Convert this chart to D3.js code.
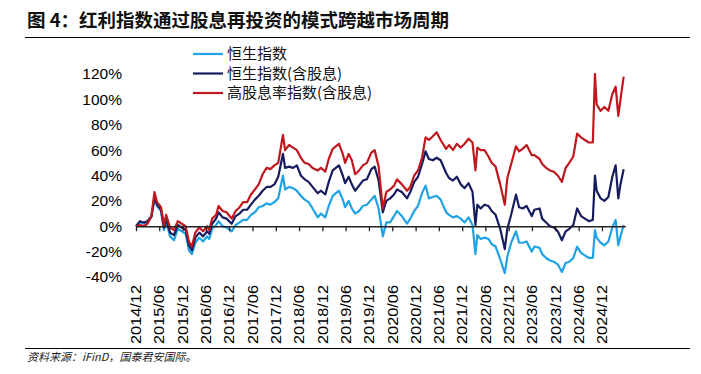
<!DOCTYPE html>
<html>
<head>
<meta charset="utf-8">
<script src="https://cdn.jsdelivr.net/npm/d3@7"></script>
<style>
  body { margin: 0; background: #fff; }
  svg { display: block; }
  .cjk { font-family: "Noto Sans CJK SC", sans-serif; }
  .num { font-family: "Liberation Sans", Arial, sans-serif; }
</style>
</head>
<body>
<svg id="chart" width="701" height="374"></svg>
<script>
// dates of the readings (month-level, plus a few turning points)
var dates = [
  '2014-12-01','2015-01-01','2015-02-01','2015-03-01','2015-04-01','2015-04-25','2015-05-15','2015-06-15',
  '2015-07-08','2015-07-25','2015-08-25','2015-09-25','2015-10-25','2015-11-25','2015-12-25',
  '2016-01-20','2016-02-12','2016-03-10','2016-04-10','2016-05-10','2016-06-10','2016-06-27',
  '2016-07-20','2016-08-20','2016-09-08','2016-10-10','2016-11-10','2016-12-20',
  '2017-01-20','2017-02-20','2017-03-20','2017-04-20','2017-05-20','2017-06-20','2017-07-20',
  '2017-08-20','2017-09-20','2017-10-20','2017-11-20','2017-12-20',
  '2018-01-26','2018-02-12','2018-03-15','2018-04-15','2018-05-15','2018-06-15','2018-07-15',
  '2018-08-15','2018-09-15','2018-10-26','2018-11-20','2018-12-24',
  '2019-01-20','2019-02-20','2019-04-10','2019-05-10','2019-05-28','2019-06-25','2019-07-20',
  '2019-08-15','2019-09-15','2019-10-15','2019-11-15','2019-12-20',
  '2020-01-15','2020-02-15','2020-03-19','2020-04-15','2020-05-15','2020-06-15','2020-07-08',
  '2020-08-15','2020-09-25','2020-10-20','2020-11-20','2020-12-20',
  '2021-01-20','2021-02-17','2021-03-15','2021-04-15','2021-05-15','2021-06-15','2021-07-28',
  '2021-08-20','2021-09-20','2021-10-20','2021-11-20','2021-12-20',
  '2022-01-20','2022-02-20','2022-03-15','2022-03-30','2022-04-25','2022-05-25','2022-06-25',
  '2022-07-20','2022-08-20','2022-09-25','2022-10-31','2022-11-20','2022-12-20',
  '2023-01-27','2023-02-20','2023-03-20','2023-04-20','2023-05-31','2023-06-20','2023-07-31',
  '2023-08-20','2023-09-20','2023-10-20','2023-11-20','2023-12-20',
  '2024-01-22','2024-02-20','2024-03-20','2024-04-20','2024-05-20','2024-06-20','2024-07-20',
  '2024-08-20','2024-09-20','2024-10-07','2024-10-20','2024-11-20','2024-12-20',
  '2025-01-20','2025-02-20','2025-03-18','2025-04-08','2025-04-25','2025-05-20'
];

// 恒生指数 (%)
var hsi = [
  0,3,2,3,7,21,16,12,
  -3,4,-8,-11,-2,-4,-6,
  -19,-22,-13,-9,-12,-8,-10,
  -2,1,4,0,-1,-4,
  1,3,5,5,9,11,15,
  16,18,17,19,22,
  40,29,31,30,28,24,21,
  19,14,7,10,7,
  16,24,28,21,15,20,14,
  10,12,16,17,21,
  24,14,-8,3,3,8,12,
  8,2,6,12,16,
  26,32,22,23,24,21,11,
  9,7,8,6,3,
  7,1,-22,-7,-10,-9,-10,
  -14,-16,-26,-37,-24,-13,
  -4,-13,-13,-12,-20,-16,-17,
  -22,-25,-27,-28,-30,
  -36,-29,-28,-25,-16,-21,-23,
  -25,-25,-3,-9,-13,-15,
  -12,-1,5,-15,-8,1
];

// 恒生指数(含股息) (%)
var hsiTR = [
  0,4,3,4,8,23,17,13,
  -1,6,-5,-7,1,-1,-3,
  -15,-19,-9,-5,-8,-4,-6,
  2,6,11,7,6,2,
  8,10,13,13,17,21,24,
  28,31,31,33,39,
  57,46,47,46,48,40,37,
  35,31,26,28,25,
  35,44,48,40,34,39,33,
  28,32,36,37,45,
  47,36,11,20,22,25,29,
  27,22,27,35,39,
  49,59,53,52,54,52,42,
  38,36,39,33,30,
  34,27,1,17,14,17,16,
  12,9,-2,-18,-2,9,
  25,15,14,16,8,13,14,
  6,3,0,-1,-4,
  -11,-4,-2,1,14,8,6,
  4,5,40,28,22,20,
  23,39,48,22,33,45
];

// 高股息率指数(含股息) (%)
var hdy = [
  0,1,0,2,8,27,19,15,
  1,9,-1,-3,4,2,0,
  -12,-16,-5,-1,-4,0,-3,
  6,9,16,12,11,6,
  12,15,19,19,25,29,33,
  41,46,45,48,50,
  72,60,64,62,60,54,50,
  49,46,44,46,43,
  53,61,65,57,50,57,52,
  41,44,48,50,58,
  60,47,14,27,29,32,37,
  33,28,31,40,44,
  54,70,68,71,74,68,61,
  64,60,65,62,65,
  69,66,44,62,60,60,55,
  50,47,33,17,38,49,
  63,59,61,64,56,56,53,
  49,46,44,43,40,
  35,46,50,55,73,70,68,
  66,66,120,96,91,94,
  91,104,110,87,100,118
];

var seriesNames = ['恒生指数', '恒生指数(含股息)', '高股息率指数(含股息)'];
var seriesColors = ['#1fa3e4', '#171c5e', '#c0181f'];
var yTicks = [-40, -20, 0, 20, 40, 60, 80, 100, 120];
var xTickLabels = ['2014/12','2015/06','2015/12','2016/06','2016/12','2017/06','2017/12',
  '2018/06','2018/12','2019/06','2019/12','2020/06','2020/12','2021/06','2021/12',
  '2022/06','2022/12','2023/06','2023/12','2024/06','2024/12'];

var parse = d3.timeParse('%Y-%m-%d');
var parseTick = d3.timeParse('%Y/%m');
var svg = d3.select('#chart');

// title
svg.append('text')
  .attr('class', 'cjk')
  .attr('x', 27).attr('y', 27)
  .style('font-size', '18.5px').style('font-weight', 'bold').style('fill', '#111')
  .text('图 4：红利指数通过股息再投资的模式跨越市场周期');
svg.append('line')
  .attr('x1', 25).attr('x2', 690).attr('y1', 37.5).attr('y2', 37.5)
  .style('stroke', '#000').style('stroke-width', 1.2);

var x = d3.scaleTime()
  .domain([parse('2014-12-01'), parse('2025-06-01')])
  .range([136, 625.2]);
var y = d3.scaleLinear()
  .domain([-40, 120])
  .range([277, 74]);

// y labels
var yAxis = svg.append('g')
  .attr('transform', 'translate(125,0)')
  .call(d3.axisLeft(y).tickValues(yTicks).tickSize(0).tickPadding(3)
    .tickFormat(function(d) { return d + '%'; }));
yAxis.select('.domain').remove();
yAxis.selectAll('text')
  .attr('class', 'num')
  .style('font-size', '15.5px').style('fill', '#000');

// lines
var lineGen = d3.line()
  .x(function(d) { return x(d.date); })
  .y(function(d) { return y(d.v); });

[hsi, hsiTR, hdy].forEach(function(vals, k) {
  var pts = vals.map(function(v, i) { return {date: parse(dates[i]), v: v}; });
  svg.append('path')
    .attr('d', lineGen(pts))
    .style('fill', 'none')
    .style('stroke', seriesColors[k])
    .style('stroke-width', '2.2px')
    .style('stroke-linejoin', 'round');
});

// x axis on the 0% line
var xAxis = svg.append('g')
  .attr('transform', 'translate(0,' + y(0) + ')')
  .call(d3.axisBottom(x)
    .tickValues(xTickLabels.map(function(t) { return parseTick(t); }))
    .tickSize(5).tickSizeOuter(0).tickFormat(''));
xAxis.select('.domain').style('stroke', '#222').style('stroke-width', 1.3);
xAxis.selectAll('.tick line').style('stroke', '#222').style('stroke-width', 1.3);

// x labels under the plot
svg.append('g').selectAll('text')
  .data(xTickLabels)
  .join('text')
  .attr('class', 'num')
  .attr('transform', function(d) { return 'translate(' + x(parseTick(d)) + ',285) rotate(-90)'; })
  .attr('dy', '0.35em')
  .attr('text-anchor', 'end')
  .attr('textLength', 59)
  .attr('lengthAdjust', 'spacingAndGlyphs')
  .style('font-size', '15px')
  .style('fill', '#000')
  .text(function(d) { return d; });

// legend
var legend = svg.append('g');
seriesNames.forEach(function(name, k) {
  var ly = 54 + k * 19.5;
  legend.append('line')
    .attr('x1', 193).attr('x2', 223).attr('y1', ly).attr('y2', ly)
    .style('stroke', seriesColors[k]).style('stroke-width', 2.2);
  legend.append('text')
    .attr('class', 'cjk')
    .attr('x', 227).attr('y', ly).attr('dy', '0.36em')
    .style('font-size', '15px').style('fill', '#111')
    .text(name);
});

// source
svg.append('line')
  .attr('x1', 25).attr('x2', 690).attr('y1', 348.5).attr('y2', 348.5)
  .style('stroke', '#000').style('stroke-width', 1.2);
svg.append('text')
  .attr('class', 'cjk')
  .attr('x', 27).attr('y', 361)
  .style('font-size', '11px').style('font-style', 'italic').style('fill', '#222')
  .text('资料来源：iFinD，国泰君安国际。');
</script>
</body>
</html>
